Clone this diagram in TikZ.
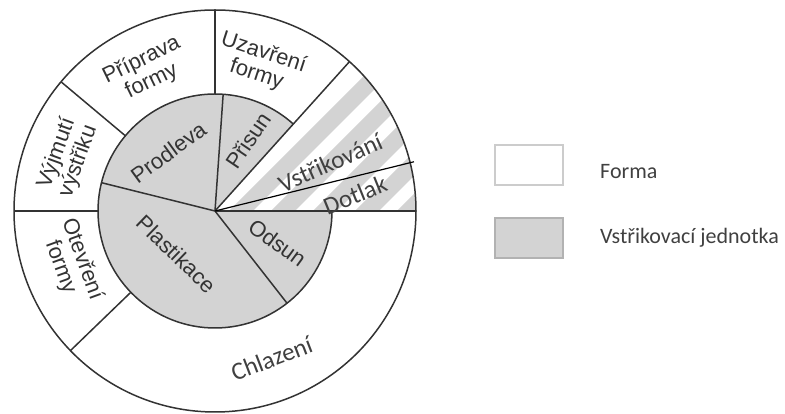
\documentclass[tikz,border=0pt]{standalone}
\usepackage{fontspec}
\setmainfont{Liberation Sans}
\newfontfamily\calibrifont{Carlito}
\definecolor{ringline}{HTML}{333333}
\definecolor{unitgray}{HTML}{D3D3D3}
\definecolor{legtext}{HTML}{404040}
\tikzset{
  ring/.style={draw=ringline, line width=1.5pt},
  lab/.style={font=\fontsize{22}{23}\selectfont, align=center, text=ringline, inner sep=0pt},
  clab/.style={font=\calibrifont\fontsize{25}{27}\selectfont, text=legtext, inner sep=0pt},
  legbox/.style={minimum width=68pt, minimum height=40pt, line width=1.5pt},
  legtxt/.style={font=\calibrifont\fontsize{22}{24}\selectfont, text=legtext, anchor=west, inner sep=0pt}
}
\begin{document}
\begin{tikzpicture}[x=1pt,y=1pt]
\useasboundingbox (0,0) rectangle (785,414);
\begin{scope}[shift={(215,203)}]
  \coordinate (O) at (0,0);
  \fill[unitgray] (O) -- (48:117) arc[start angle=48, end angle=360, radius=117] -- cycle;
  \begin{scope}
    \clip (O) -- (0:201) arc[start angle=0, end angle=48, radius=201] -- cycle;
    \foreach \u in {14,56,...,210}
      \fill[unitgray] (\u,0) -- ++(24,0) -- ++(160,160) -- ++(-24,0) -- cycle;
  \end{scope}

  \draw[ring] (O) circle[radius=201];
  \draw[ring] (48:117) arc[start angle=48, end angle=360, radius=117];

  \draw[ring] (90:117) -- (90:201);
  \draw[ring] (O) -- (86:117);
  \draw[ring] (O) -- (48:201);
  \draw[ring] (O) -- (0:201);
  \draw[ring] (140:117) -- (140:201);
  \draw[ring] (O) -- (166:117);
  \draw[ring] (180:117) -- (180:201);
  \draw[ring] (224:117) -- (224:201);
  \draw[ring] (O) -- (308:117);
  \draw[black, line width=1.2pt] (O) -- (13.9:205);

  \node[lab, rotate=26] (priprava) at (116:156) {Příprava\\formy};
  \node[lab, rotate=-18] (uzavreni) at (73:154) {Uzavření\\formy};
  \node[lab, rotate=70] (vyjmuti) at (160:157) {Výjmutí\\výstřiku};
  \node[lab, rotate=-70] (otevreni) at (200:153) {Otevření\\formy};
  \node[clab, rotate=21] (chlazeni) at (291:158) {Chlazení};
  \node[clab, rotate=24] (vstrik) at (22.7:125) {Vstřikování};
  \node[clab, rotate=22] (dotlak) at (6.5:141) {Dotlak};
  \node[lab, rotate=36] (prodleva) at (128.5:75) {Prodleva};
  \node[lab, rotate=56] (prisun) at (65:78) {Přisun};
  \node[lab, rotate=-44] (plastikace) at (228:58) {Plastikace};
  \node[lab, rotate=-36] (odsun) at (-27:70) {Odsun};
\end{scope}

\node[legbox, draw=black!20, fill=white] (forma) at (529,249) {};
\node[legbox, draw=black!30, fill=unitgray] (jednotka) at (529,176) {};
\node[legtxt] (formatxt) at (600,242) {Forma};
\node[legtxt] (jednotkatxt) at (600,176) {Vstřikovací jednotka};
\end{tikzpicture}
\end{document}
